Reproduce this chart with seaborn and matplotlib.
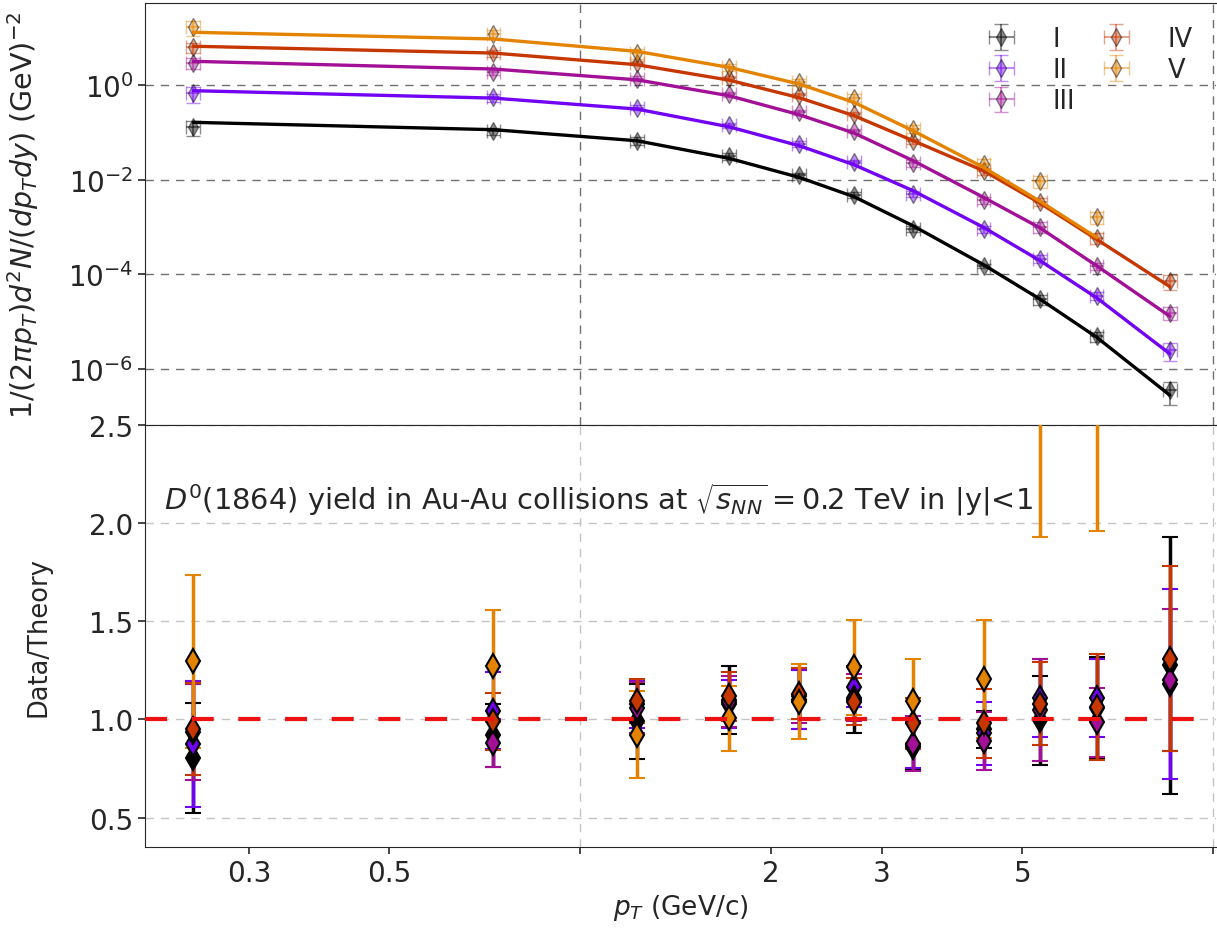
import numpy as np
import pandas as pd
import matplotlib
matplotlib.use('Agg')
import matplotlib.pyplot as plt
import seaborn as sns
from matplotlib.ticker import FixedLocator, FixedFormatter, NullFormatter, NullLocator

# D0 yield in Au-Au, 0.2 TeV: theory curves and data/theory ratios for sets I..V
pt = [0.245, 0.73, 1.23, 1.72, 2.22, 2.71, 3.36, 4.34, 5.33, 6.55, 8.55]
labels = ['I', 'II', 'III', 'IV', 'V']

theory_I = [0.163, 0.114, 0.0666, 0.0283, 0.0112, 0.00437, 0.00106, 1.6e-4, 3.0e-5, 4.7e-6, 2.8e-7]
theory_II = [0.76, 0.53, 0.311, 0.131, 0.0522, 0.0207, 0.00585, 9.85e-4, 1.95e-4, 3.2e-5, 2.1e-6]
theory_III = [3.17, 2.18, 1.29, 0.594, 0.236, 0.0968, 0.0252, 0.00424, 9.6e-4, 1.52e-4, 1.3e-5]
theory_IV = [6.6, 4.74, 2.69, 1.27, 0.54, 0.225, 0.0666, 0.0155, 3.2e-3, 5.5e-4, 5.5e-5]
theory_V = [13.0, 9.4, 5.15, 2.36, 1.05, 0.43, 0.108, 0.0182, 3.5e-3, 6.0e-4]

ratio_I = [0.805, 0.92, 0.99, 1.10, 1.10, 1.10, 0.86, 0.95, 0.995, 1.06, 1.275]
ratio_II = [0.875, 1.043, 1.077, 1.077, 1.10, 1.165, 0.87, 0.93, 1.11, 1.11, 1.18]
ratio_III = [0.935, 0.88, 1.06, 1.09, 1.12, 1.11, 0.875, 0.89, 1.05, 0.985, 1.20]
ratio_IV = [0.95, 0.99, 1.094, 1.119, 1.13, 1.09, 0.98, 0.98, 1.08, 1.064, 1.31]
ratio_V = [1.295, 1.27, 0.923, 1.005, 1.09, 1.265, 1.094, 1.205, 2.7, 2.75]

err_I = [0.28, 0.16, 0.19, 0.173, 0.15, 0.17, 0.12, 0.095, 0.225, 0.26, 0.655]
err_II = [0.32, 0.196, 0.12, 0.123, 0.15, 0.10, 0.12, 0.16, 0.20, 0.20, 0.485]
err_III = [0.245, 0.12, 0.13, 0.13, 0.14, 0.12, 0.14, 0.15, 0.26, 0.175, 0.36]
err_IV = [0.235, 0.145, 0.111, 0.125, 0.13, 0.12, 0.13, 0.175, 0.21, 0.27, 0.47]
err_V = [0.44, 0.285, 0.222, 0.167, 0.19, 0.243, 0.216, 0.30, 0.77, 0.79]

theory = [theory_I, theory_II, theory_III, theory_IV, theory_V]
ratios = [ratio_I, ratio_II, ratio_III, ratio_IV, ratio_V]
errors = [err_I, err_II, err_III, err_IV, err_V]

sns.set_style('ticks')
plt.rcParams['font.family'] = ['DejaVu Sans']
plt.rcParams['mathtext.fontset'] = 'dejavusans'

cmap = plt.get_cmap('gnuplot')
colors = [cmap(i / 5) for i in range(5)]

# long table for the theory curves
rows = []
for lab, th in zip(labels, theory):
    for x, y in zip(pt, th):
        rows.append({'pt': x, 'yield': y, 'set': lab})
df = pd.DataFrame(rows)

fig = plt.figure(figsize=(12.17, 9.37), dpi=100)
left, width = 145 / 1217, 1071 / 1217
ax1 = fig.add_axes([left, 0.5454, width, 0.4503])
ax2 = fig.add_axes([left, 0.095, width, 0.4504], sharex=ax1)

ax1.set_xscale('log')
ax1.set_yscale('log')

grid_dash = (0, (6, 5))

# upper panel: data points with errors
handles = []
for lab, col, th, r, e in zip(labels, colors, theory, ratios, errors):
    n = len(r)
    x = np.array(pt[:n])
    th = np.array(th)
    y = th * np.array(r)
    yerr = th * np.array(e)
    h = ax1.errorbar(x, y, yerr=yerr, xerr=0.025 * x, fmt='d', color=col, ms=9,
                     mec='k', mew=1.0, alpha=0.45, capsize=5, elinewidth=1.5,
                     label=lab, zorder=2)
    handles.append(h)

sns.lineplot(data=df, x='pt', y='yield', hue='set', palette=colors, ax=ax1,
             legend=False, lw=2.4, zorder=3)

ax1.set_xlim(0.2055, 10.11)
ax1.set_ylim(6.6e-8, 54)
ax1.yaxis.set_major_locator(FixedLocator([1e0, 1e-2, 1e-4, 1e-6]))
ax1.yaxis.set_minor_locator(NullLocator())
ax1.grid(True, which='major', color='#707070', ls=grid_dash, lw=1.0)
ax1.set_xlabel('')
ax1.set_ylabel(r'$1/(2\pi p_T)d^2N/(dp_Tdy)$ (GeV)$^{-2}$', fontsize=20.5)
ax1.yaxis.set_label_coords(-0.097, 0.5)
ax1.tick_params(axis='x', which='both', labelbottom=False, length=0)
ax1.tick_params(axis='y', labelsize=20, length=5, width=1.2)
ax1.spines['right'].set_visible(False)

ax1.legend(handles=handles, ncol=2, loc='upper right', frameon=False, fontsize=18.5,
           labelspacing=0.2, columnspacing=0.6, handletextpad=1.0,
           borderaxespad=0.5)

# lower panel: data / theory
for lab, col, r, e in zip(labels, colors, ratios, errors):
    n = len(r)
    ax2.errorbar(pt[:n], r, yerr=e, fmt='d', color=col, ms=12, mec='k', mew=1.5,
                 capsize=6, elinewidth=2.5, capthick=2, zorder=3)

ax2.axhline(1.0, color='#ee1111', ls=(0, (5.3, 5.9)), lw=3, zorder=4)

ax2.set_ylim(0.35, 2.5)
ax2.set_yticks([0.5, 1.0, 1.5, 2.0, 2.5])
ax2.set_yticklabels(['0.5', '1.0', '1.5', '2.0', '2.5'])
ax2.xaxis.set_major_locator(FixedLocator([1, 10]))
ax2.xaxis.set_major_formatter(NullFormatter())
ax2.xaxis.set_minor_locator(FixedLocator([0.3, 0.5, 2, 3, 5]))
ax2.xaxis.set_minor_formatter(FixedFormatter(['0.3', '0.5', '2', '3', '5']))
ax2.grid(True, which='major', color='#c4c4c4', ls=grid_dash, lw=1.0)
ax2.tick_params(axis='both', which='both', labelsize=20, length=5, width=1.2)
ax2.spines['right'].set_visible(False)
ax2.set_xlabel(r'$p_T$ (GeV/c)', fontsize=19)
ax2.set_ylabel('Data/Theory', fontsize=18.5)
ax2.yaxis.set_label_coords(-0.087, 0.5)

ax2.text(0.018, 0.825,
         r'$D^0$(1864) yield in Au-Au collisions at $\sqrt{s_{NN}}=0.2$ TeV in |y|<1',
         transform=ax2.transAxes, fontsize=20.8, va='center', ha='left')

fig.savefig('out.png', dpi=100)
